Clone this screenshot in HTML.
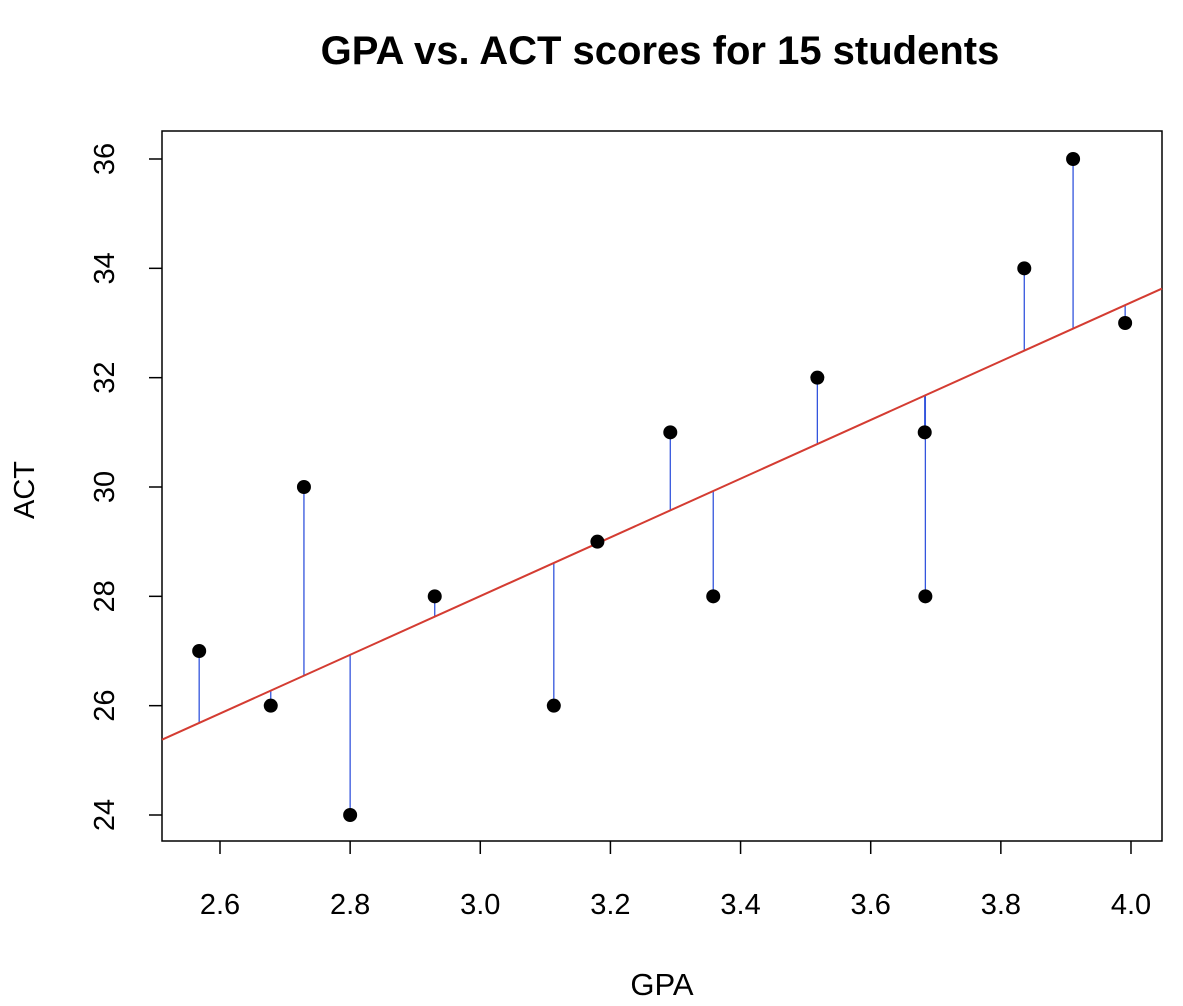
<!DOCTYPE html>
<html><head><meta charset="utf-8">
<style>
html,body{margin:0;padding:0;background:#fff;}
svg{display:block;font-family:"Liberation Sans",Arial,sans-serif;}
</style></head>
<body>
<svg id="chart" width="1183" height="1006" viewBox="0 0 1183 1006">
<text x="660" y="64" text-anchor="middle" font-size="40" font-weight="bold" fill="#000">GPA vs. ACT scores for 15 students</text>
<rect x="162" y="131" width="1000" height="710" fill="none" stroke="#000" stroke-width="1.5"/>
<g id="xaxis"></g>
<g id="yaxis"></g>
<text x="662" y="995" text-anchor="middle" font-size="31">GPA</text>
<text transform="translate(34,490) rotate(-90)" text-anchor="middle" font-size="29">ACT</text>
<g id="marks"></g>
</svg>
<script>
const gpa = [2.568,2.678,2.729,2.800,2.930,3.113,3.180,3.292,3.358,3.518,3.683,3.684,3.836,3.911,3.991];
const act = [27,26,30,24,28,26,29,31,28,32,31,28,34,36,33];
const xTicks = [2.6,2.8,3.0,3.2,3.4,3.6,3.8,4.0];
const yTicks = [24,26,28,30,32,34,36];

const NS="http://www.w3.org/2000/svg";
const X0=162,X1=1162,Y0=131,Y1=841;
function sx(v){return 220+(v-2.6)*650.71;}
function sy(v){return 815-(v-24)*54.667;}
function mk(tag,attrs,parent){const e=document.createElementNS(NS,tag);for(const k in attrs)e.setAttribute(k,attrs[k]);parent.appendChild(e);return e;}
const xa=document.getElementById('xaxis'),ya=document.getElementById('yaxis'),mg=document.getElementById('marks');
xTicks.forEach(t=>{
  const l=mk('line',{x1:sx(t),x2:sx(t),y1:Y1,y2:Y1+13,stroke:'#000','stroke-width':1.5},xa);
  
  
  const tx=mk('text',{x:sx(t),y:Y1+73,'text-anchor':'middle','font-size':29},xa);
  tx.textContent=t.toFixed(1);
  
  
});
yTicks.forEach(t=>{
  const l=mk('line',{x1:X0-13,x2:X0,y1:sy(t),y2:sy(t),stroke:'#000','stroke-width':1.5},ya);
  
  
  const tx=mk('text',{transform:`translate(${X0-48},${sy(t)}) rotate(-90)`,'text-anchor':'middle','font-size':29},ya);
  tx.textContent=String(t);
  
  
});
const n=gpa.length;let mx=0,my=0;for(let i=0;i<n;i++){mx+=gpa[i];my+=act[i];}mx/=n;my/=n;
let sxy=0,sxx=0;for(let i=0;i<n;i++){sxy+=(gpa[i]-mx)*(act[i]-my);sxx+=(gpa[i]-mx)**2;}
const b=sxy/sxx,a=my-b*mx;
const xmin=2.6+(X0-220)/650.71,xmax=2.6+(X1-220)/650.71;
for(let i=0;i<n;i++){
  const r=mk('line',{x1:sx(gpa[i]),x2:sx(gpa[i]),y1:sy(act[i]),y2:sy(a+b*gpa[i]),stroke:'#3355dd','stroke-width':1.3},mg);
  
  
}
const rl=mk('line',{x1:X0,x2:X1,y1:sy(a+b*xmin),y2:sy(a+b*xmax),stroke:'#d43c32','stroke-width':2},mg);


for(let i=0;i<n;i++){
  const c=mk('circle',{cx:sx(gpa[i]),cy:sy(act[i]),r:7,fill:'#000'},mg);
  
  
}
</script>
</body></html>
